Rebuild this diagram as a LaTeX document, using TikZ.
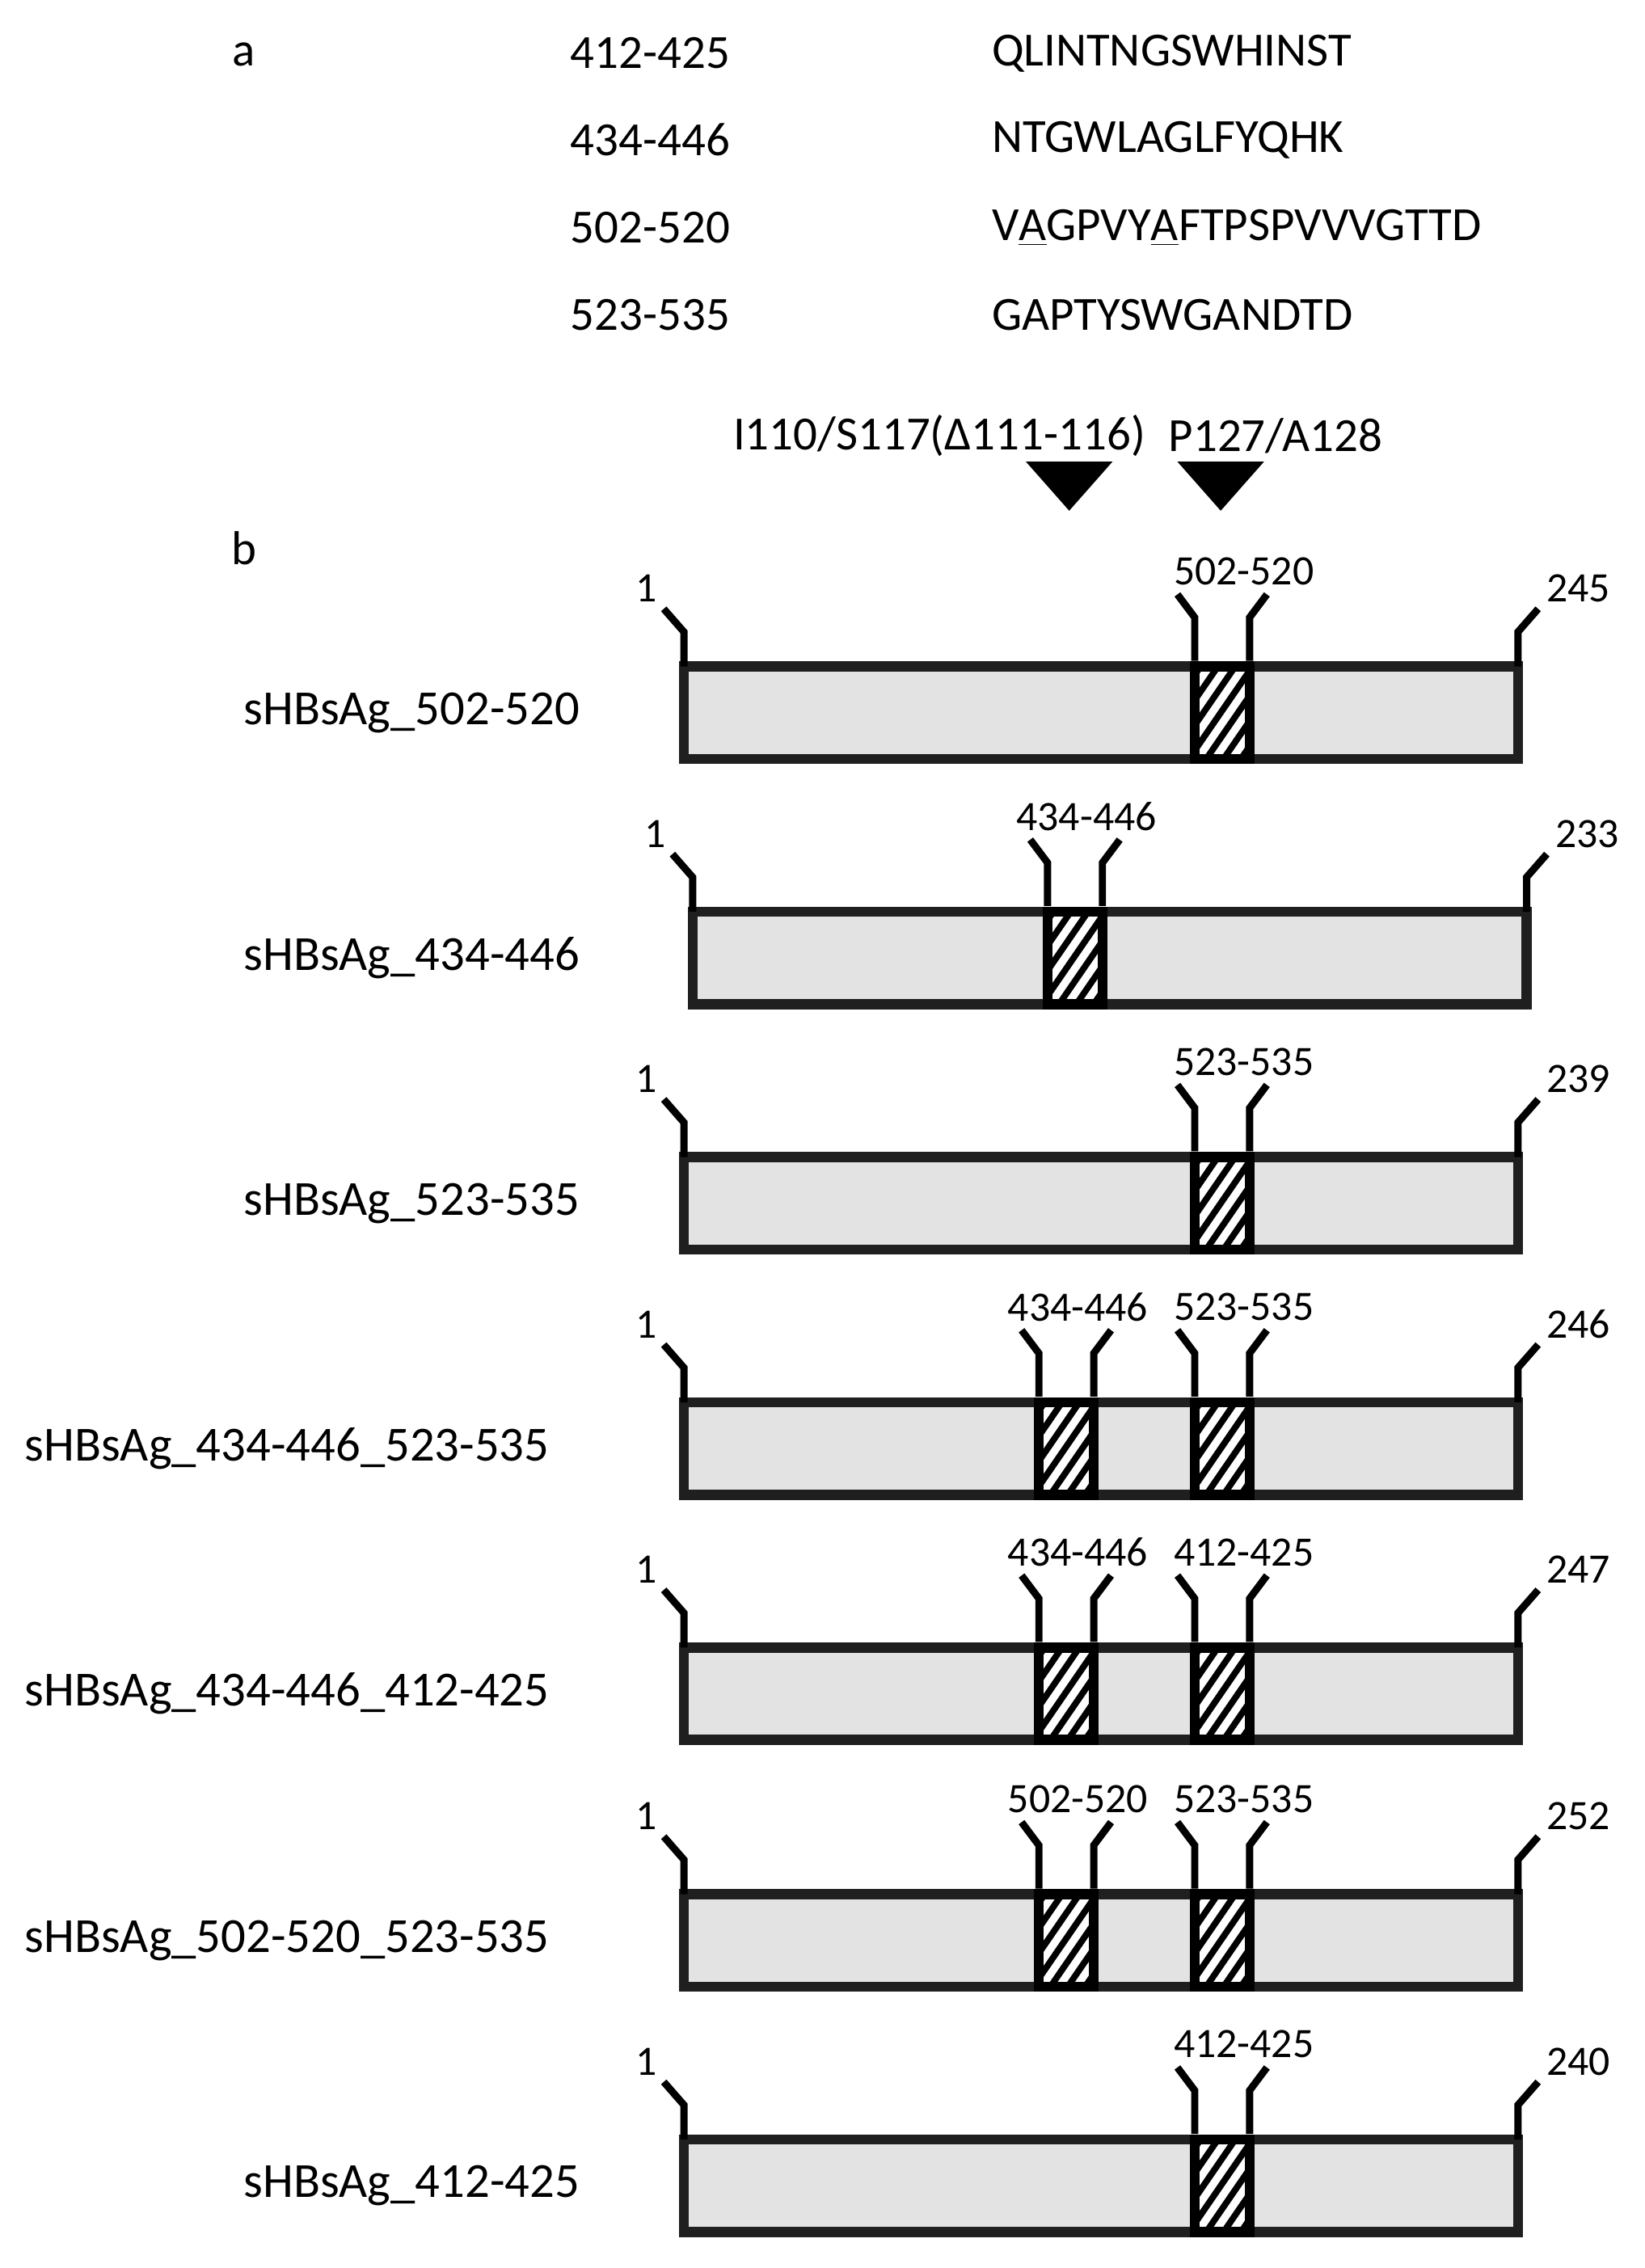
\documentclass[tikz,border=0pt]{standalone}
\usepackage{fontspec}
\setmainfont{Carlito}
\begin{document}
\begin{tikzpicture}[x=0.5pt,y=-0.5pt,
  big/.style={font=\fontsize{16.5}{18}\selectfont,inner sep=0pt},
  lab/.style={font=\fontsize{17}{19}\selectfont,inner sep=0pt},
  small/.style={font=\fontsize{14.5}{16}\selectfont,inner sep=0pt},
  bar/.style={draw=black!88,line width=3.5pt,fill=black!11},
  ins/.style={draw=black,line width=3.5pt},
  tick/.style={line width=2.5pt,line cap=butt}]
\useasboundingbox (0,0) rectangle (1140,1572);
\newcommand{\hatchbox}[2]{%
  \fill[white] (#1,#2) rectangle (#1+38,#2+64);
  \begin{scope}
  \clip (#1,#2) rectangle (#1+38,#2+64);
  \foreach \t in {-40,-28,...,80} \draw[line width=2.2pt] (#1+\t,#2+64) -- (#1+\t+44,#2);
  \end{scope}
  \draw[ins] (#1,#2) rectangle (#1+38,#2+64);}
\node[big] (a) at (169,38) {a};
\node[big] (b) at (169,380) {b};
\foreach \y/\n/\s [count=\i] in {37/412-425/QLINTNGSWHINST,97/434-446/NTGWLAGLFYQHK,158/502-520/V\underline{A}GPVY\underline{A}FTPSPVVVGTTD,218/523-535/GAPTYSWGANDTD}{
  \node[big,anchor=west] (n\i) at (395,\y) {\n};
  \node[big,anchor=west] (s\i) at (687,\y) {\s};
}
\node[big] (m1) at (651,302) {I110/S117(Δ111-116)};
\node[big] (m2) at (884,302) {P127/A128};
\fill (711,320) -- (771,320) -- (741,354) -- cycle;
\fill (816,320) -- (876,320) -- (846,354) -- cycle;
\foreach \yt/\dx/\lb/\lr/\en/\li/\ri [count=\k] in {
  462/0/sHBsAg\_502-520/402/245//502-520,
  632/6/sHBsAg\_434-446/402/233/434-446/,
  802/0/sHBsAg\_523-535/402/239//523-535,
  972/0/sHBsAg\_434-446\_523-535/381/246/434-446/523-535,
  1142/0/sHBsAg\_434-446\_412-425/381/247/434-446/412-425,
  1313/0/sHBsAg\_502-520\_523-535/381/252/502-520/523-535,
  1483/0/sHBsAg\_412-425/402/240//412-425}{
  \begin{scope}[xshift=\dx*0.5pt]
  \draw[bar] (474,\yt) rectangle (1052,\yt+64);
  \node[lab,anchor=east] (L\k) at (\lr-\dx,\yt+32) {\lb};
  \draw[tick] (474,\yt) -- (474,\yt-24) -- (460,\yt-40);
  \draw[tick] (1052,\yt) -- (1052,\yt-24) -- (1066,\yt-40);
  \node[small] (one\k) at (448,\yt-54) {1};
  \node[small] (end\k) at (1094,\yt-54) {\en};
  \ifx\ri\empty\else
    \hatchbox{828}{\yt}
    \draw[tick] (828,\yt-4) -- (828,\yt-34) -- (816,\yt-50);
    \draw[tick] (866,\yt-4) -- (866,\yt-34) -- (878,\yt-50);
    \node[small] (r\k) at (862,\yt-66) {\ri};
  \fi
  \ifx\li\empty\else
    \hatchbox{720}{\yt}
    \draw[tick] (720,\yt-4) -- (720,\yt-34) -- (708,\yt-50);
    \draw[tick] (758,\yt-4) -- (758,\yt-34) -- (770,\yt-50);
    \node[small] (l\k) at (747,\yt-66) {\li};
  \fi
  \end{scope}
}
\end{tikzpicture}
\end{document}
